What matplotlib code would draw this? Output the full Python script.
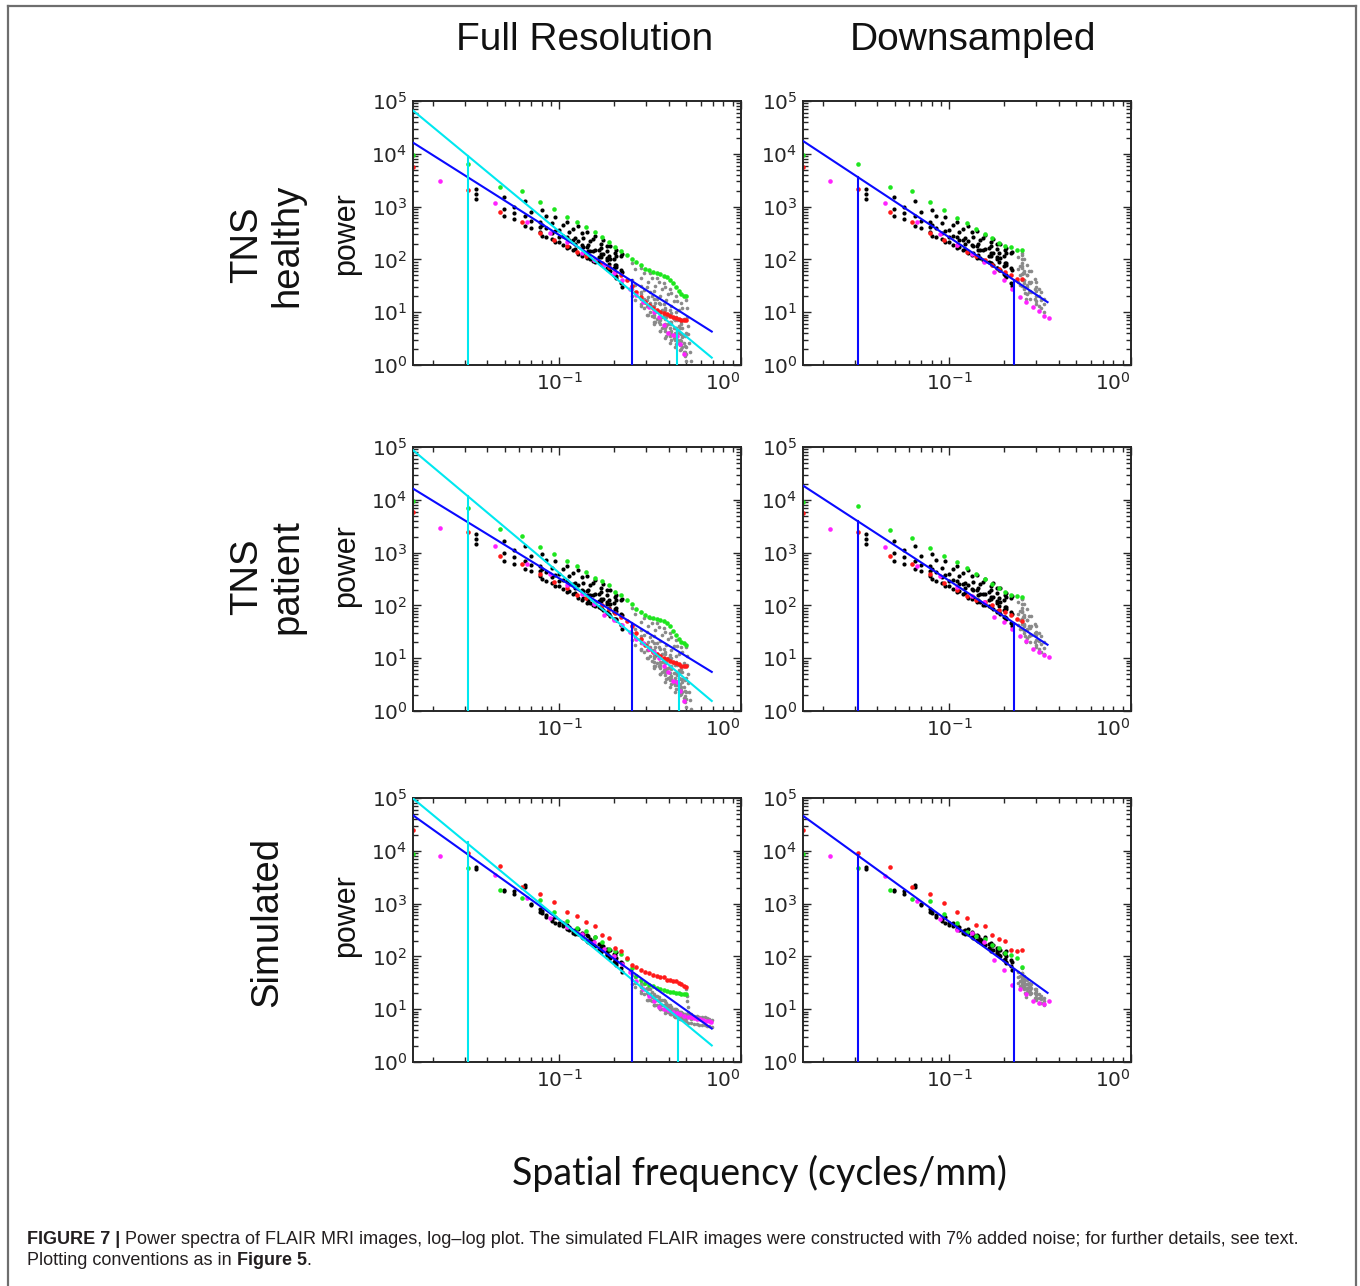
import matplotlib
matplotlib.use("Agg")
import matplotlib.pyplot as plt
from matplotlib.ticker import LogLocator, NullFormatter
from matplotlib.lines import Line2D

# spatial frequency grid (cycles/mm) shared by all panels
axis_f = [0.0156, 0.0313, 0.0469, 0.0625, 0.0781, 0.0938, 0.1094, 0.125, 0.1406, 0.1563,
          0.1719, 0.1875, 0.2031, 0.2188, 0.2344, 0.25, 0.2656, 0.2813, 0.2969, 0.3125,
          0.3281, 0.3438, 0.3594, 0.375, 0.3906, 0.4063, 0.4219, 0.4375, 0.4531, 0.4688,
          0.4844, 0.5]
diag_f = [0.0221, 0.0442, 0.0663, 0.0884, 0.1105, 0.1326, 0.1547, 0.1768, 0.1989, 0.2210,
          0.2431, 0.2652, 0.2873, 0.3094, 0.3315, 0.3536, 0.3757, 0.3977, 0.4198, 0.4419,
          0.4640, 0.4861, 0.5082, 0.5303, 0.5524, 0.5745, 0.5966, 0.6187, 0.6408, 0.6629,
          0.6850]
chain_f = [0.0349, 0.0494, 0.0563, 0.0644, 0.0699, 0.0781, 0.0797, 0.0841, 0.0911, 0.1000,
           0.0950, 0.1048, 0.1127, 0.1220, 0.1105, 0.1190, 0.1344, 0.1441, 0.1260, 0.1335,
           0.1474, 0.1661, 0.1415, 0.1539, 0.1690, 0.1881, 0.1570, 0.1683, 0.1822, 0.2001,
           0.1726, 0.1829, 0.2037, 0.1901, 0.2031, 0.2055, 0.2177, 0.2210]
gray_full_f = [0.2519, 0.2619, 0.2795, 0.3034, 0.3322, 0.2830, 0.2919, 0.3078, 0.3296, 0.3563,
               0.3141, 0.3221, 0.3366, 0.3567, 0.3815, 0.3452, 0.3525, 0.3658, 0.3843, 0.4074,
               0.3763, 0.3831, 0.3953, 0.4125, 0.4341, 0.4074, 0.4137, 0.4250, 0.4411, 0.4614,
               0.4386, 0.4444, 0.4550, 0.4700, 0.4891, 0.4698, 0.4752, 0.4851, 0.4993]
gray_down_f = [0.2519, 0.2577, 0.2670, 0.2795, 0.2948, 0.3125, 0.3322, 0.2390, 0.2524, 0.2733,
               0.3001, 0.3206, 0.2446, 0.2688, 0.2986, 0.2563, 0.2764]
nyq_full_f = [0.5005, 0.5020, 0.5044, 0.5078, 0.5122, 0.5176, 0.5239, 0.5312]
nyq_down_f = [0.2502, 0.2510, 0.2522, 0.2539, 0.2561, 0.2588, 0.2620, 0.2656]
corner_f = [0.51, 0.53, 0.55, 0.57, 0.59, 0.61, 0.63, 0.65, 0.67, 0.69]

# ---- TNS healthy, full resolution
hf_green = [9500, 6300, 2400, 2000, 1200, 900, 640, 520, 405, 335, 270, 215, 173, 145, 120, 104,
            90, 78, 67, 62, 58, 55, 52, 49, 46, 41, 36, 30, 25, 22, 20, 20]
hf_red = [5600, 2100, 780, 520, 310, 233, 180, 139, 115, 98, 84, 72, 58, 50, 41, 32,
          24, 19, 15.5, 13.4, 12.1, 11, 10.3, 9.7, 9.1, 8.6, 8.1, 7.8, 7.4, 7.2, 7.1, 7.0]
hf_mag = [3000, 1170, 520, 320, 215, 130, 96, 78, 55, 40, 28, 21, 15.5, 12.4, 10, 8, 5.6,
          4.1, 3.7, 3.5, 2.5, 1.6]
hf_black_a = [2150, 1500, 1000, 1250, 780, 520, 850, 650, 480, 360, 640, 450, 330, 250, 500, 380,
              250, 185, 420, 320, 220, 150, 330, 240, 165, 115, 280, 200, 145, 100, 230, 180,
              118, 180, 135, 150, 115, 125]
hf_black_c = [1700, 900, 760, 650, 540, 410, 450, 390, 320, 270, 340, 280, 230, 195, 270, 230,
              175, 145, 220, 185, 145, 112, 175, 145, 112, 82, 150, 125, 98, 70, 125, 105, 72,
              100, 78, 80, 62, 58]
hf_black_b = [1390, 650, 580, 420, 400, 330, 280, 265, 240, 215, 210, 190, 172, 158, 165, 152,
              130, 118, 128, 118, 104, 88, 105, 94, 82, 62, 90, 82, 68, 50, 78, 66, 48, 60, 48,
              45, 35, 30]
hf_gray_a = [85, 65, 45, 30, 18, 70, 55, 38, 25, 14, 55, 45, 32, 20, 11, 45, 37, 27, 17, 9,
             36, 30, 22, 13, 7, 28, 23, 16, 10, 5, 20, 16, 11, 6.5, 3.5, 15, 12, 7.5, 4]
hf_gray_c = [40, 33, 24, 17, 10, 32, 26, 19, 13, 8, 24, 20, 15, 10, 6, 18, 15, 11, 8, 5,
             14, 12, 9, 6.5, 4, 11, 9.5, 7.5, 5, 3, 8, 7, 5.5, 3.8, 2.3, 6, 5, 3.7, 2.2]
hf_gray_d = [28, 24, 18, 13, 8, 22, 18, 13, 9, 6, 15, 13, 10, 7, 4.5, 11, 10, 8, 5.5, 3.6,
             8.5, 7.5, 6, 4.4, 3, 6.5, 6, 5, 3.5, 2.4, 5, 4.6, 4, 2.8, 1.8, 3.8, 3.4, 2.6, 1.6]
hf_gray_b = [20, 17, 13, 9, 6, 14, 12, 9, 6.5, 4.5, 10, 8.5, 6.5, 4.5, 3.2, 7.5, 6.5, 5, 3.6, 2.6,
             5.5, 5, 4, 3, 2.2, 4.2, 3.8, 3.2, 2.5, 1.9, 3.2, 3, 2.6, 2, 1.5, 2.4, 2.2, 1.8, 1.2]
hf_nyq = [17, 12, 8, 5.5, 3.8, 2.6, 1.8, 1.2]
hf_blue_f, hf_blue_p = [0.0156, 0.69], [16300, 4.3]
hf_cyan_f, hf_cyan_p = [0.0156, 0.69], [66000, 1.38]
hf_bcut_f, hf_bcut_p = [0.25], [40]
hf_ccut_f, hf_ccut_p = [0.0313, 0.445], [9200, 4.9]

# ---- TNS patient, full resolution
hp_green = [9300, 7000, 2770, 2090, 1290, 960, 680, 550, 435, 333, 288, 240, 180, 155, 125, 108,
            87, 75, 65, 60, 58, 56, 54, 50, 46, 41, 33, 27, 23, 20, 19, 18]
hp_red = [5800, 2500, 875, 620, 385, 280, 215, 160, 140, 118, 100, 85, 72, 60, 50, 40,
          30, 23, 18, 15, 13, 12, 11, 10, 9.5, 9, 8.5, 8, 7.6, 7.2, 7.1, 7.0]
hp_mag = [2900, 1340, 600, 400, 240, 167, 108, 65, 52, 42, 31, 23, 19, 15, 13, 10, 7.2, 5.4,
          3.7, 3.6, 2.4, 1.55]
hp_black_a = [2300, 1650, 1100, 1350, 850, 560, 950, 720, 520, 390, 700, 490, 360, 270, 560, 410,
              270, 200, 460, 350, 240, 165, 360, 265, 180, 125, 300, 215, 155, 110, 250, 195,
              128, 195, 145, 160, 125, 135]
hp_black_c = [1800, 980, 820, 700, 580, 440, 490, 420, 345, 290, 370, 300, 250, 210, 295, 250,
              190, 155, 240, 200, 158, 122, 190, 158, 122, 90, 162, 135, 106, 76, 135, 114, 80,
              108, 85, 88, 70, 65]
hp_black_b = [1450, 700, 620, 480, 440, 360, 310, 290, 260, 235, 230, 205, 185, 170, 180, 165,
              140, 125, 138, 128, 112, 95, 113, 100, 88, 70, 97, 88, 74, 56, 82, 72, 55, 64, 56,
              52, 42, 36]
hp_gray_a = [90, 70, 48, 32, 19, 75, 58, 40, 26, 15, 58, 47, 34, 21, 12, 47, 39, 28, 18, 10,
             38, 32, 23, 14, 7.5, 30, 25, 17, 11, 5.5, 22, 17, 12, 7, 3.8, 16, 13, 8, 4.3]
hp_gray_c = [42, 35, 26, 18, 11, 34, 28, 20, 14, 8.5, 25, 21, 16, 11, 6.5, 19, 16, 12, 8.5, 5.2,
             15, 13, 10, 7, 4.2, 11.5, 10, 8, 5.3, 3.2, 8.5, 7.5, 6, 4, 2.4, 6.3, 5.4, 4, 2.3]
hp_gray_d = [30, 25, 19, 14, 8.5, 23, 19, 14, 10, 6.5, 16, 14, 11, 7.5, 4.8, 12, 10.5, 8.5, 6, 3.8,
             9, 8, 6.5, 4.6, 3.1, 7, 6.3, 5.2, 3.7, 2.5, 5.3, 4.9, 4.2, 2.9, 1.9, 4, 3.6, 2.8, 1.7]
hp_gray_b = [22, 18, 14, 10, 6.5, 15, 13, 10, 7, 5, 11, 9, 7, 5, 3.5, 8, 7, 5.5, 4, 2.8,
             6, 5.5, 4.3, 3.2, 2.3, 4.5, 4, 3.4, 2.6, 2, 3.4, 3.1, 2.7, 2.1, 1.5, 2.5, 2.3, 1.8, 1.2]
hp_nyq = [16, 11, 7.5, 5, 3.4, 2.3, 1.6, 1.1]
hp_blue_f, hp_blue_p = [0.0156, 0.69], [16300, 5.5]
hp_cyan_f, hp_cyan_p = [0.0156, 0.69], [87000, 1.55]
hp_bcut_f, hp_bcut_p = [0.25], [47]
hp_ccut_f, hp_ccut_p = [0.0313, 0.453], [12000, 5.0]

# ---- simulated, full resolution
sf_green = [8700, 4700, 1800, 1260, 1170, 700, 470, 340, 300, 230, 190, 140, 125, 110, 90, 60,
            42, 35, 32, 29, 27, 25, 24, 23, 22, 21, 21, 20, 20, 19, 19, 19]
sf_red = [25000, 9000, 5100, 2100, 1520, 1060, 690, 590, 445, 383, 257, 223, 144, 124, 95, 70,
          62, 56, 50, 49, 44, 42, 40, 40, 36, 35, 34, 34, 31, 30, 28, 26]
sf_mag = [8000, 3500, 1260, 530, 355, 260, 190, 140, 100, 72, 50, 34, 24, 18, 14, 11, 10, 9.5,
          9, 8.5, 8, 7.5, 7.2, 7, 6.8, 6.6, 6.4, 6.2, 6, 6, 5.8]
sf_black_a = [4900, 1800, 1700, 2300, 1000, 780, 720, 600, 520, 430, 560, 420, 360, 320, 400, 300,
              260, 240, 330, 280, 210, 170, 250, 200, 175, 130, 230, 150, 140, 110, 160, 120,
              95, 130, 105, 120, 80, 75]
sf_black_b = [4600, 1700, 1500, 2100, 950, 700, 650, 560, 470, 400, 420, 380, 320, 260, 330, 280,
              220, 190, 270, 230, 180, 140, 200, 170, 130, 100, 160, 120, 105, 80, 130, 110, 75,
              95, 85, 70, 60, 50]
sf_gray_a = [45, 40, 32, 25, 18, 35, 30, 24, 19, 15, 24, 21, 18, 15, 12, 18, 17, 15, 13, 11,
             15, 14, 12, 11, 10, 12, 11, 10, 9.5, 9, 10, 9.5, 9, 8.5, 8, 9, 8.5, 8, 7.5]
sf_gray_c = [36, 32, 26, 20, 15, 28, 24, 19, 15, 12, 19, 17, 15, 12, 10, 15, 14, 12, 11, 9.5,
             12, 11.5, 10.5, 9.5, 8.5, 10, 9.5, 8.8, 8.2, 7.8, 8.8, 8.3, 7.9, 7.5, 7, 7.9, 7.5,
             7.1, 6.8]
sf_gray_b = [30, 26, 20, 15, 12, 22, 19, 15, 12, 10, 15, 14, 12, 10, 8.5, 12, 11, 10, 9, 8,
             10, 9.5, 9, 8, 7, 8.5, 8, 7.5, 7, 6.5, 7.5, 7, 6.8, 6.5, 6, 7, 6.5, 6.2, 6]
sf_nyq = [24, 18, 14, 11, 9, 8, 7, 6.5]
sf_corner_hi = [8, 8, 7.5, 7.5, 7.2, 7, 7, 6.8, 6.5, 6.2]
sf_corner_lo = [5.5, 5.5, 5.2, 5.3, 5, 5, 5, 4.9, 4.8, 4.6]
sf_blue_f, sf_blue_p = [0.0156, 0.69], [47000, 4.3]
sf_cyan_f, sf_cyan_p = [0.0156, 0.69], [98000, 2.06]
sf_bcut_f, sf_bcut_p = [0.25], [54]
sf_ccut_f, sf_ccut_p = [0.0313, 0.448], [14400, 6.4]

# ---- TNS healthy, downsampled
hd_green = [9500, 6300, 2400, 2000, 1200, 850, 610, 480, 380, 300, 250, 208, 183, 170, 150, 150]
hd_red = [5600, 2200, 780, 520, 320, 233, 187, 139, 117, 96, 80, 67, 58, 50, 43, 43]
hd_mag = [3000, 1170, 505, 300, 187, 125, 90, 58, 40, 27, 19.3, 15.8, 12.4, 10.4, 8.4, 7.6]
hd_black_a = [2150, 1500, 1000, 1250, 780, 520, 850, 650, 480, 360, 640, 450, 330, 250, 500, 380,
              260, 195, 420, 330, 235, 165, 340, 255, 180, 130, 290, 215, 160, 115, 245, 195,
              135, 195, 150, 165, 130, 140]
hd_black_c = [1700, 900, 760, 650, 540, 410, 450, 390, 320, 270, 340, 280, 230, 195, 270, 230,
              180, 150, 225, 190, 150, 118, 180, 150, 118, 88, 155, 130, 104, 76, 130, 110, 78,
              106, 84, 86, 68, 64]
hd_black_b = [1390, 650, 580, 420, 400, 330, 280, 265, 240, 215, 210, 190, 172, 158, 165, 152,
              132, 120, 130, 120, 106, 90, 108, 96, 84, 64, 92, 84, 70, 52, 80, 68, 50, 62, 50,
              46, 36, 31]
hd_gray_a = [120, 100, 80, 60, 42, 28, 18, 110, 85, 60, 38, 24, 75, 50, 30, 55, 35]
hd_gray_c = [70, 60, 50, 38, 28, 20, 14, 65, 52, 38, 25, 17, 50, 33, 20, 40, 25]
hd_gray_b = [40, 36, 30, 24, 18, 13, 10, 38, 32, 24, 16, 12, 33, 22, 14, 28, 18]
hd_nyq = [130, 100, 75, 55, 40, 30, 23, 18]
hd_blue_f, hd_blue_p = [0.0156, 0.347], [17500, 15.5]
hd_bcut_f, hd_bcut_p = [0.0313, 0.2255], [3650, 40]

# ---- TNS patient, downsampled
hpd_green = [8900, 7500, 2700, 1910, 1200, 875, 650, 500, 400, 315, 258, 215, 180, 160, 150, 145]
hpd_red = [5600, 2450, 860, 600, 385, 270, 200, 151, 125, 116, 100, 81, 75, 65, 56, 50]
hpd_mag = [2800, 1300, 560, 363, 224, 151, 116, 60, 48, 36, 26, 21, 15, 13, 11.5, 10.7]
hpd_black_a = [2300, 1650, 1100, 1350, 850, 560, 950, 720, 520, 390, 700, 490, 360, 270, 560, 410,
               280, 210, 460, 360, 255, 180, 370, 280, 195, 140, 310, 230, 170, 125, 260, 210,
               145, 210, 160, 175, 140, 150]
hpd_black_c = [1800, 980, 820, 700, 580, 440, 490, 420, 345, 290, 370, 300, 250, 210, 295, 250,
               195, 160, 245, 205, 165, 128, 195, 165, 130, 96, 168, 142, 112, 82, 142, 120, 86,
               114, 92, 94, 76, 70]
hpd_black_b = [1450, 700, 620, 480, 440, 360, 310, 290, 260, 235, 230, 205, 185, 170, 180, 165,
               142, 128, 140, 130, 115, 98, 116, 104, 92, 74, 100, 92, 78, 60, 86, 76, 58, 68,
               60, 56, 46, 40]
hpd_gray_a = [130, 105, 85, 62, 45, 30, 20, 115, 90, 62, 40, 26, 80, 52, 32, 60, 38]
hpd_gray_c = [76, 65, 54, 41, 30, 21, 15.5, 70, 56, 40, 27, 18.5, 54, 35, 22, 43, 27]
hpd_gray_b = [45, 40, 34, 27, 20, 15, 12, 42, 35, 26, 18, 13, 36, 24, 16, 30, 20]
hpd_nyq = [135, 105, 80, 60, 45, 34, 26, 20]
hpd_blue_f, hpd_blue_p = [0.0156, 0.347], [18600, 18]
hpd_bcut_f, hpd_bcut_p = [0.0313, 0.2255], [4000, 46]

# ---- simulated, downsampled
sd_green = [8700, 4700, 1800, 1200, 1120, 630, 425, 295, 240, 215, 166, 144, 116, 107, 93, 62]
sd_red = [25000, 8900, 5000, 2100, 1500, 1020, 680, 545, 400, 380, 257, 215, 197, 130, 124, 132]
sd_mag = [8000, 3400, 1120, 505, 315, 283, 191, 87, 56, 29, 24, 19, 14, 13, 12.3, 14]
sd_black_a = [4900, 1800, 1700, 2300, 1000, 780, 720, 600, 520, 430, 560, 420, 360, 320, 400, 300,
              265, 245, 330, 285, 215, 175, 255, 205, 180, 135, 235, 155, 145, 115, 165, 125,
              100, 135, 110, 125, 85, 80]
sd_black_b = [4600, 1700, 1500, 2100, 950, 700, 650, 560, 470, 400, 420, 380, 320, 260, 330, 280,
              225, 195, 270, 235, 185, 145, 205, 175, 135, 105, 165, 125, 110, 85, 135, 115, 80,
              100, 90, 75, 65, 55]
sd_gray_a = [48, 42, 36, 30, 24, 19, 16, 50, 40, 32, 24, 18, 42, 30, 22, 38, 28]
sd_gray_c = [38, 34, 30, 25, 20, 16, 14, 40, 33, 26, 20, 15.5, 34, 25, 18.5, 31, 23]
sd_gray_b = [30, 27, 24, 20, 16, 13, 12, 32, 26, 21, 16, 13, 28, 21, 15, 26, 19]
sd_nyq = [60, 48, 40, 34, 28, 24, 20, 17]
sd_blue_f, sd_blue_p = [0.0156, 0.347], [46000, 20.4]
sd_bcut_f, sd_bcut_p = [0.0313, 0.2255], [8500, 57]

col_titles = ["Full Resolution", "Downsampled"]
row_labels = ["TNS\nhealthy", "TNS\npatient", "Simulated"]
x_label = "Spatial frequency (cycles/mm)"
caption_bold = "FIGURE 7 |"
caption_1 = ("Power spectra of FLAIR MRI images, log\u2013log plot. The simulated FLAIR images were "
             "constructed with 7% added noise; for further details, see text.")
caption_2a = "Plotting conventions as in "
caption_2b = "Figure 5"

GREEN, RED, MAG = "#1ee61e", "#ff1a1a", "#ff22ff"
BLUE, CYAN, GRAY = "#0a0aff", "#00e8f0", "#8a8a8a"
TICK = "#262626"

W, H = 1360, 1286
fig = plt.figure(figsize=(W / 100, H / 100), dpi=100)


def fx(px):
    return px / W


def fy(py):
    return 1 - py / H


def style(ax):
    ax.set_xscale("log")
    ax.set_yscale("log")
    ax.set_xlim(0.0156, 1.0)
    ax.set_ylim(1, 1e5)
    ax.yaxis.set_major_locator(LogLocator(base=10, numticks=12))
    for a in (ax.xaxis, ax.yaxis):
        a.set_minor_locator(LogLocator(base=10, subs=range(2, 10), numticks=12))
        a.set_minor_formatter(NullFormatter())
    ax.set_xticks([0.1, 1.0], labels=[r"$\mathdefault{10^{-1}}$", ""])
    ax.tick_params(which="both", direction="in", top=True, right=True, width=1.0,
                   color=TICK, labelcolor=TICK, labelsize=14.5)
    ax.tick_params(which="major", length=6)
    ax.tick_params(which="minor", length=3.5)
    ax.tick_params(axis="x", pad=5)
    ax.tick_params(axis="y", pad=4)
    # the 10^0 label sits a little inside the right edge, as in the original
    ax.annotate(r"$\mathdefault{10^{0}}$", xy=(1.0, 0), xycoords=("data", "axes fraction"),
                xytext=(-18, -7), textcoords="offset pixels", ha="center", va="top",
                fontsize=14.5, color=TICK, annotation_clip=False)
    for s in ax.spines.values():
        s.set_linewidth(1.4)
        s.set_color(TICK)


def dots(ax, f, p, color, ms=3.0):
    ax.plot(f[:len(p)], p, "o", ms=ms, mew=0, color=color, zorder=2)


def panel(ax, green, red, mag, black, gray, lines, cuts):
    for gf, gp in gray:
        dots(ax, gf, gp, GRAY, 2.6)
    for b in black:
        dots(ax, chain_f, b, "k", 3.0)
    dots(ax, axis_f, green, GREEN, 3.3)
    dots(ax, axis_f, red, RED, 3.3)
    dots(ax, diag_f, mag, MAG, 3.3)
    for lf, lp, c in lines:
        ax.plot(lf, lp, color=c, lw=1.5, zorder=3)
    for cf, cp, c in cuts:
        for f, top in zip(cf, cp):
            ax.plot([f, f], [1, top], color=c, lw=1.5, zorder=3)
    style(ax)


col_left = [413, 803]
row_top = [101, 447, 798]
aw, ah = 328, 264
axes = {}
for r in range(3):
    for c in range(2):
        axes[r, c] = fig.add_axes([fx(col_left[c]), fy(row_top[r] + ah), aw / W, ah / H])

panel(axes[0, 0], hf_green, hf_red, hf_mag, [hf_black_a, hf_black_c, hf_black_b],
      [(gray_full_f, hf_gray_a), (gray_full_f, hf_gray_c), (gray_full_f, hf_gray_d),
       (gray_full_f, hf_gray_b), (nyq_full_f, hf_nyq)],
      [(hf_blue_f, hf_blue_p, BLUE), (hf_cyan_f, hf_cyan_p, CYAN)],
      [(hf_bcut_f, hf_bcut_p, BLUE), (hf_ccut_f, hf_ccut_p, CYAN)])
panel(axes[1, 0], hp_green, hp_red, hp_mag, [hp_black_a, hp_black_c, hp_black_b],
      [(gray_full_f, hp_gray_a), (gray_full_f, hp_gray_c), (gray_full_f, hp_gray_d),
       (gray_full_f, hp_gray_b), (nyq_full_f, hp_nyq)],
      [(hp_blue_f, hp_blue_p, BLUE), (hp_cyan_f, hp_cyan_p, CYAN)],
      [(hp_bcut_f, hp_bcut_p, BLUE), (hp_ccut_f, hp_ccut_p, CYAN)])
panel(axes[2, 0], sf_green, sf_red, sf_mag, [sf_black_a, sf_black_b],
      [(gray_full_f, sf_gray_a), (gray_full_f, sf_gray_c), (gray_full_f, sf_gray_b),
       (nyq_full_f, sf_nyq), (corner_f, sf_corner_hi), (corner_f, sf_corner_lo)],
      [(sf_blue_f, sf_blue_p, BLUE), (sf_cyan_f, sf_cyan_p, CYAN)],
      [(sf_bcut_f, sf_bcut_p, BLUE), (sf_ccut_f, sf_ccut_p, CYAN)])
panel(axes[0, 1], hd_green, hd_red, hd_mag, [hd_black_a, hd_black_c, hd_black_b],
      [(gray_down_f, hd_gray_a), (gray_down_f, hd_gray_c), (gray_down_f, hd_gray_b),
       (nyq_down_f, hd_nyq)],
      [(hd_blue_f, hd_blue_p, BLUE)], [(hd_bcut_f, hd_bcut_p, BLUE)])
panel(axes[1, 1], hpd_green, hpd_red, hpd_mag, [hpd_black_a, hpd_black_c, hpd_black_b],
      [(gray_down_f, hpd_gray_a), (gray_down_f, hpd_gray_c), (gray_down_f, hpd_gray_b),
       (nyq_down_f, hpd_nyq)],
      [(hpd_blue_f, hpd_blue_p, BLUE)], [(hpd_bcut_f, hpd_bcut_p, BLUE)])
panel(axes[2, 1], sd_green, sd_red, sd_mag, [sd_black_a, sd_black_b],
      [(gray_down_f, sd_gray_a), (gray_down_f, sd_gray_c), (gray_down_f, sd_gray_b),
       (nyq_down_f, sd_nyq)],
      [(sd_blue_f, sd_blue_p, BLUE)], [(sd_bcut_f, sd_bcut_p, BLUE)])

sans = ["Liberation Sans", "DejaVu Sans"]
fig.text(fx(585), fy(40), col_titles[0], ha="center", va="center", fontsize=28, family=sans,
         color="#111111")
fig.text(fx(973), fy(40), col_titles[1], ha="center", va="center", fontsize=28, family=sans,
         color="#111111")
for lab, yc in zip(row_labels, [245, 577, 922]):
    fig.text(fx(267), fy(yc), lab, rotation=90, ha="center", va="center", fontsize=27.5,
             family=sans, linespacing=1.15, multialignment="center", color="#111111")
for yc in [234, 566, 916]:
    fig.text(fx(346), fy(yc), "power", rotation=90, ha="center", va="center", fontsize=22,
             family=sans, color="#111111")
fig.text(fx(760), fy(1173), x_label, ha="center", va="center", fontsize=27,
         family=["Lato", "DejaVu Sans"], color="#111111")

# page frame
for xs, ys in [([8, 8], [6, H]), ([8, 1356], [6, 6]), ([1356, 1356], [6, H])]:
    fig.add_artist(Line2D([fx(x) for x in xs], [fy(y) for y in ys], transform=fig.transFigure,
                          color="#6e6e6e", lw=1.6))

# caption
cap_kw = dict(fontsize=13, family=sans, va="baseline", color="#231f20")
renderer = fig.canvas.get_renderer()
t = fig.text(fx(27), fy(1244), caption_bold, weight="bold", **cap_kw)
x1 = t.get_window_extent(renderer).x1
fig.text((x1 + 5) / W, fy(1244), caption_1, **cap_kw)
t = fig.text(fx(27), fy(1265), caption_2a, **cap_kw)
x1 = t.get_window_extent(renderer).x1
t = fig.text(x1 / W, fy(1265), caption_2b, weight="bold", **cap_kw)
x1 = t.get_window_extent(renderer).x1
fig.text(x1 / W, fy(1265), ".", **cap_kw)

fig.savefig("out.png", dpi=100)
